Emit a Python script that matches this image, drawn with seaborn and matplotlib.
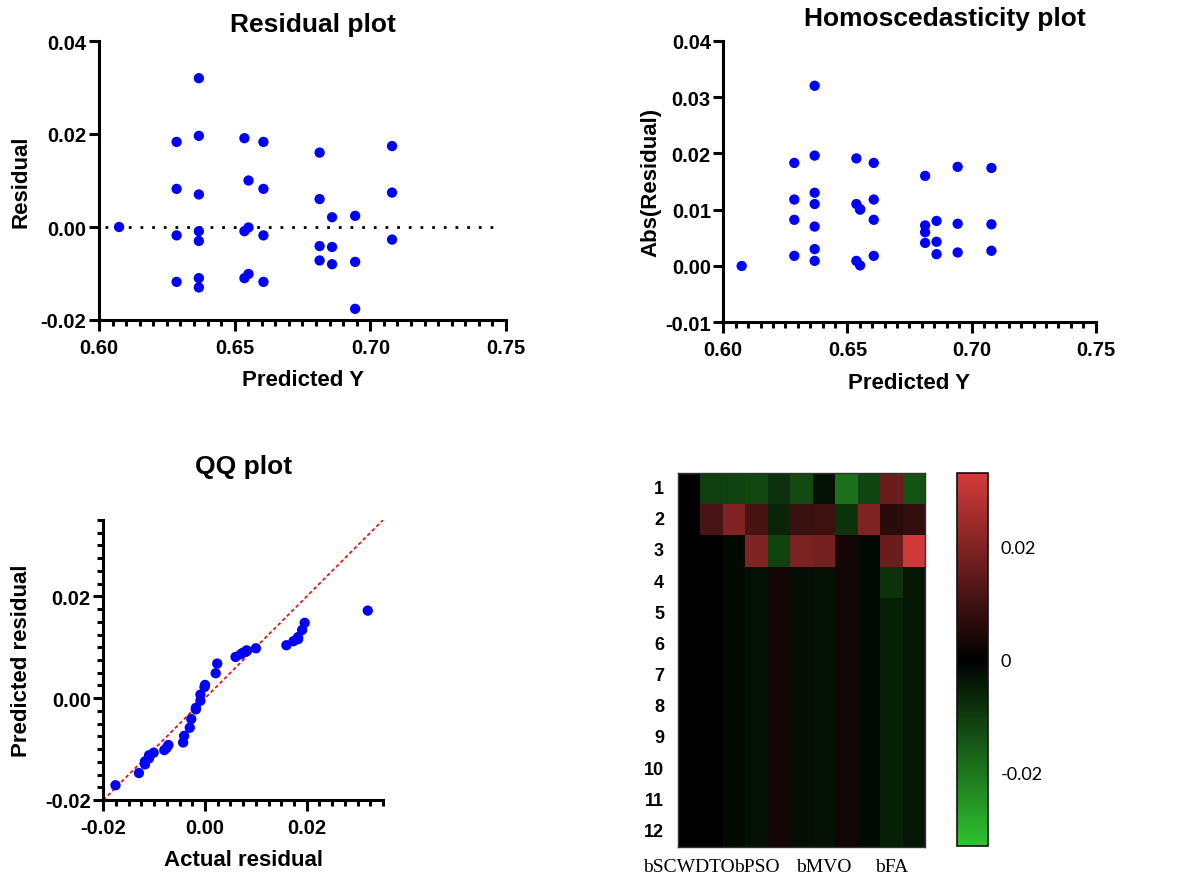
import numpy as np
import pandas as pd
import matplotlib
matplotlib.use("Agg")
import matplotlib.pyplot as plt
from matplotlib.ticker import MultipleLocator, FixedLocator, FormatStrFormatter
from matplotlib.colors import LinearSegmentedColormap
import seaborn as sns

# ---------------- data ----------------
predicted_y = [0.6074,
               0.6286, 0.6286, 0.6286, 0.6286,
               0.6368, 0.6368, 0.6368, 0.6368, 0.6368, 0.6368, 0.6368,
               0.6536, 0.6551, 0.6551, 0.6536, 0.6551, 0.6536,
               0.6606, 0.6606, 0.6606, 0.6606,
               0.6813, 0.6813, 0.6813, 0.6813,
               0.6859, 0.6859, 0.6859,
               0.6944, 0.6944, 0.6944,
               0.7080, 0.7080, 0.7080]
residual = [0.0000,
            0.0183, 0.0082, -0.0018, -0.0118,
            0.0320, 0.0196, 0.0070, -0.0009, -0.0030, -0.0110, -0.0130,
            0.0191, 0.0100, -0.0001, -0.0009, -0.0101, -0.0110,
            0.0183, 0.0082, -0.0018, -0.0118,
            0.0160, 0.0060, -0.0041, -0.0072,
            0.0021, -0.0043, -0.0080,
            0.0024, -0.0075, -0.0176,
            0.0174, 0.0074, -0.0027]
abs_residual = [abs(v) for v in residual]

qq_actual = sorted(residual)
qq_predicted = [-0.0171, -0.0147, -0.0130, -0.0124, -0.0118, -0.0112, -0.0107,
                -0.0102, -0.0097, -0.0092, -0.0087, -0.0074, -0.0058, -0.0041,
                -0.0022, -0.0019, -0.0005, 0.0007, 0.0022, 0.0026, 0.0049,
                0.0068, 0.0081, 0.0086, 0.0089, 0.0092, 0.0094, 0.0098,
                0.0104, 0.0112, 0.0116, 0.0120, 0.0134, 0.0148, 0.0172]

row_labels = [str(i) for i in range(1, 13)]
col_labels = ["bSCWDTO", "", "", "bPSO", "", "", "bMVO", "", "", "bFA", ""]
heat_row1 = [0.0, -0.0104, -0.0110, -0.0120, -0.0083, -0.0125, -0.0026, -0.0190, -0.0118, 0.0165, -0.0140]
heat_row2 = [0.0, 0.0113, 0.0200, 0.0110, -0.0060, 0.0090, 0.0097, -0.0087, 0.0200, 0.0063, 0.0075]
heat_row3 = [0.0, 0.0, -0.0014, 0.0197, -0.0113, 0.0190, 0.0180, 0.0030, -0.0014, 0.0165, 0.0320]
heat_row4 = [0.0, 0.0, -0.0017, -0.0030, 0.0030, -0.0024, -0.0030, 0.0030, -0.0014, -0.0083, -0.0037]
heat_row5 = [0.0, 0.0, -0.0017, -0.0030, 0.0030, -0.0024, -0.0030, 0.0030, -0.0014, -0.0050, -0.0037]
heat_rows_6_12 = [heat_row5] * 7
cbar_ticks = [-0.02, 0.0, 0.02]
cbar_ticklabels = ["-0.02", "0", "0.02"]

# ---------------- style ----------------
sns.set_style("ticks")
plt.rcParams["font.family"] = ["Liberation Sans", "DejaVu Sans"]
plt.rcParams["axes.unicode_minus"] = False
for key in ("text.color", "axes.labelcolor", "xtick.color", "ytick.color",
            "axes.edgecolor"):
    plt.rcParams[key] = "black"

W, H = 1191, 878
fig = plt.figure(figsize=(W / 100, H / 100), dpi=100)


def frac(left, top, right, bottom):
    return [left / W, 1 - bottom / H, (right - left) / W, (bottom - top) / H]


LW = 2.2


def style_axes(ax):
    sns.despine(ax=ax)
    for s in ("left", "bottom"):
        ax.spines[s].set_linewidth(LW)
        ax.spines[s].set_color("black")
    ax.tick_params(which="major", width=LW, length=8, color="black",
                   labelcolor="black", labelsize=14.5)
    ax.tick_params(which="minor", width=LW, length=4.5, color="black")
    ax.tick_params(axis="y", which="major", length=7, pad=2)
    ax.tick_params(axis="x", which="major", pad=5)
    for lab in ax.get_xticklabels() + ax.get_yticklabels():
        lab.set_fontweight("bold")


blue = "#0000ff"
title_kw = dict(fontsize=19, fontweight="bold", color="black")
label_kw = dict(fontsize=16, fontweight="bold", color="black")

# ---- Residual plot ----
ax1 = fig.add_axes(frac(99, 42, 506, 321))
ax1.axhline(0, xmin=0.015, xmax=0.985, color="black", linestyle=(0, (1, 3.2)),
            linewidth=2.0, zorder=1)
sns.scatterplot(x=predicted_y, y=residual, ax=ax1, color=blue, s=55,
                edgecolor="none", legend=False, zorder=3)
ax1.set_xlim(0.60, 0.75)
ax1.set_ylim(-0.02, 0.04)
ax1.xaxis.set_major_locator(FixedLocator([0.60, 0.65, 0.70, 0.75]))
ax1.xaxis.set_minor_locator(MultipleLocator(0.005))
ax1.yaxis.set_major_locator(FixedLocator([-0.02, 0.0, 0.02, 0.04]))
ax1.xaxis.set_major_formatter(FormatStrFormatter("%.2f"))
ax1.yaxis.set_major_formatter(FormatStrFormatter("%.2f"))
style_axes(ax1)
ax1.set_title("Residual plot", pad=7, x=0.525, **title_kw)
ax1.set_xlabel("Predicted Y", **label_kw)
ax1.set_ylabel("Residual", **label_kw)
ax1.xaxis.set_label_coords(0.5, -0.175)
ax1.yaxis.set_label_coords(-0.165, 0.5)

# ---- Homoscedasticity plot ----
ax2 = fig.add_axes(frac(723.3, 41.7, 1095.7, 323.3))
sns.scatterplot(x=predicted_y, y=abs_residual, ax=ax2, color=blue, s=55,
                edgecolor="none", legend=False, zorder=3)
ax2.set_xlim(0.60, 0.75)
ax2.set_ylim(-0.01, 0.04)
ax2.xaxis.set_major_locator(FixedLocator([0.60, 0.65, 0.70, 0.75]))
ax2.xaxis.set_minor_locator(MultipleLocator(0.005))
ax2.yaxis.set_major_locator(FixedLocator([-0.01, 0.0, 0.01, 0.02, 0.03, 0.04]))
ax2.xaxis.set_major_formatter(FormatStrFormatter("%.2f"))
ax2.yaxis.set_major_formatter(FormatStrFormatter("%.2f"))
style_axes(ax2)
ax2.set_title("Homoscedasticity plot", pad=11, x=0.595, **title_kw)
ax2.set_xlabel("Predicted Y", **label_kw)
ax2.set_ylabel("Abs(Residual)", **label_kw)
ax2.xaxis.set_label_coords(0.5, -0.175)
ax2.yaxis.set_label_coords(-0.165, 0.5)

# ---- QQ plot ----
ax3 = fig.add_axes(frac(103.3, 521, 383, 801))
ax3.plot([-0.02, 0.035], [-0.02, 0.035], color="red", linestyle=(0, (2.2, 1.6)),
         linewidth=1.2, zorder=1)
sns.scatterplot(x=qq_actual, y=qq_predicted, ax=ax3, color=blue, s=55,
                edgecolor="none", legend=False, zorder=3)
ax3.set_xlim(-0.02, 0.035)
ax3.set_ylim(-0.02, 0.035)
ax3.xaxis.set_major_locator(FixedLocator([-0.02, 0.0, 0.02]))
ax3.yaxis.set_major_locator(FixedLocator([-0.02, 0.0, 0.02]))
ax3.xaxis.set_minor_locator(MultipleLocator(0.0025))
ax3.yaxis.set_minor_locator(MultipleLocator(0.0025))
ax3.xaxis.set_major_formatter(FormatStrFormatter("%.2f"))
ax3.yaxis.set_major_formatter(FormatStrFormatter("%.2f"))
style_axes(ax3)
ax3.set_title("QQ plot", pad=34, **title_kw)
ax3.set_xlabel("Actual residual", **label_kw)
ax3.set_ylabel("Predicted residual", **label_kw)
ax3.xaxis.set_label_coords(0.5, -0.175)
ax3.yaxis.set_label_coords(-0.255, 0.5)

# ---- Heatmap ----
heat = np.array([heat_row1, heat_row2, heat_row3, heat_row4, heat_row5] + heat_rows_6_12)
df = pd.DataFrame(heat, index=row_labels, columns=[f"c{i}" for i in range(len(col_labels))])
cmap = LinearSegmentedColormap.from_list("gkr", ["#30c230", "#000000", "#d43a3a"])
ax4 = fig.add_axes(frac(678, 474, 925, 848))
cax = fig.add_axes(frac(957, 474, 988, 847))
sns.heatmap(df, ax=ax4, cbar_ax=cax, cmap=cmap, vmin=-0.033, vmax=0.033,
            xticklabels=col_labels, yticklabels=row_labels,
            cbar_kws={"ticks": cbar_ticks})
ax4.tick_params(axis="both", length=0, labelcolor="black")
ax4.tick_params(axis="y", pad=10)
ax4.tick_params(axis="x", pad=8)
for lab in ax4.get_yticklabels():
    lab.set_fontweight("bold")
    lab.set_fontsize(13)
    lab.set_rotation(0)
for lab in ax4.get_xticklabels():
    lab.set_fontfamily(["Liberation Serif", "DejaVu Serif"])
    lab.set_fontsize(14)
    lab.set_rotation(0)
for s in ax4.spines.values():
    s.set_visible(True)
    s.set_linewidth(1.0)
    s.set_color("#333333")

cbar = ax4.collections[0].colorbar
cbar.set_ticks(cbar_ticks)
cbar.set_ticklabels(cbar_ticklabels)
cbar.outline.set_linewidth(1.2)
cbar.outline.set_edgecolor("#111111")
cax.tick_params(axis="y", direction="in", left=True, right=True, length=3,
                width=1, color="#222222", labelcolor="black", labelsize=13,
                pad=9)
for lab in cax.get_yticklabels():
    lab.set_fontfamily(["Lato", "DejaVu Sans"])

fig.savefig("out.png", dpi=100)
